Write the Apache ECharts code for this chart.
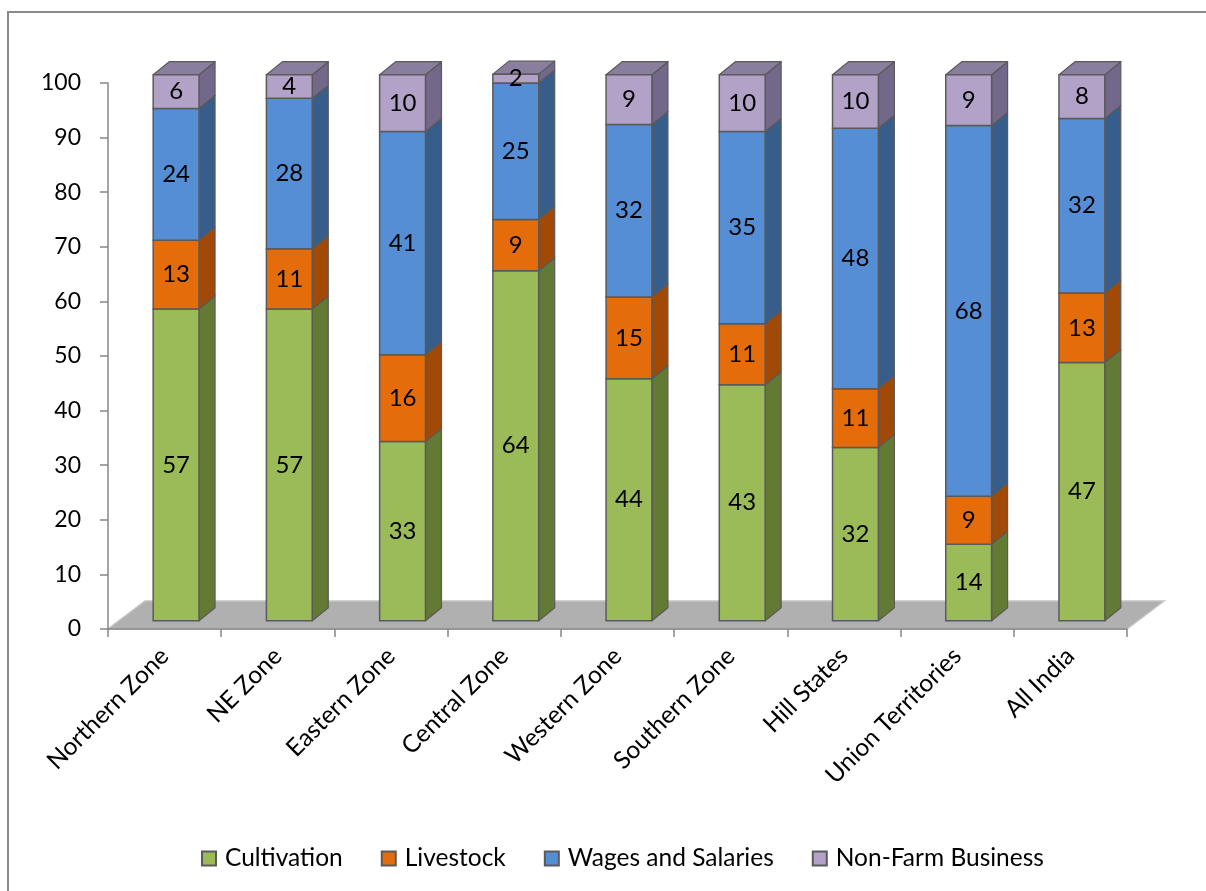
<!DOCTYPE html>
<html>
<head>
<meta charset="utf-8">
<script src="https://cdn.jsdelivr.net/npm/echarts@6/dist/echarts.min.js"></script>
<style>html,body{margin:0;padding:0;background:#fff;}#main{width:1206px;height:891px;}</style>
</head>
<body>
<div id="main"></div>
<script>
var categories = ['Northern Zone','NE Zone','Eastern Zone','Central Zone','Western Zone','Southern Zone','Hill States','Union Territories','All India'];
var seriesNames = ['Cultivation','Livestock','Wages and Salaries','Non-Farm Business'];
var cultivation = [57.1, 57.1, 32.8, 64.1, 44.3, 43.2, 31.7, 14.0, 47.3];
var livestock   = [12.6, 11.0, 15.9, 9.4, 15.0, 11.2, 10.8, 8.8, 12.7];
var wages       = [24.1, 27.6, 40.9, 25.0, 31.6, 35.2, 47.7, 67.9, 32.0];
var nonFarm     = [6.2, 4.3, 10.4, 1.6, 9.1, 10.4, 9.8, 9.3, 8.0];
var yTicks = [0,10,20,30,40,50,60,70,80,90,100];

var FONT = 'Lato';
var front = ['#9BBB59','#E46C0A','#558ED5','#B3A2C7'];
var side  = ['#627A34','#A14906','#375D8B','#73678A'];
var topC  = '#8A7E9E';
var edge  = '#5A5A5A';
var FX = 11.5, FY = -8.3, DX = 16, DY = 13;
var FLOOR_DX = 37, FLOOR_DY = 28;

var allSeries = [cultivation, livestock, wages, nonFarm];
var bases = allSeries.map(function(){return [];});
for (var i = 0; i < categories.length; i++) {
  var acc = 0;
  for (var s = 0; s < allSeries.length; s++) { bases[s][i] = acc; acc += allSeries[s][i]; }
}

function makeRender(si) {
  return function(params, api) {
    var cat = api.value(0), base = api.value(1), val = api.value(2);
    var band = api.size([1, 0])[0];
    var W = band * 0.405;
    var c0 = api.coord([cat, base]);
    var c1 = api.coord([cat, base + val]);
    var cx = c0[0] + FX;
    var yb = c0[1] + FY, yt = c1[1] + FY;
    var xl = cx - W / 2, xr = cx + W / 2;
    var children = [];
    children.push({type:'polygon', shape:{points:[[xr,yb],[xr+DX,yb-DY],[xr+DX,yt-DY],[xr,yt]]},
      style:{fill:side[si], stroke:edge, lineWidth:1.2, lineJoin:'round'}});
    if (si === allSeries.length - 1) {
      children.push({type:'polygon', shape:{points:[[xl,yt],[xr,yt],[xr+DX,yt-DY],[xl+DX,yt-DY]]},
        style:{fill:topC, stroke:edge, lineWidth:1.2, lineJoin:'round'}});
    }
    children.push({type:'rect', shape:{x:xl, y:yt, width:W, height:yb-yt},
      style:{fill:front[si], stroke:edge, lineWidth:1.5}});
    children.push({type:'text', x:cx, y:(yt+yb)/2,
      style:{text:String(Math.round(val)), align:'center', verticalAlign:'middle',
        fontSize:24, fontFamily:FONT, fill:'#000'}, z2:10});
    return {type:'group', children:children};
  };
}

var series = [{
  type:'custom', name:'floor', silent:true, z:1,
  data:[[0]],
  renderItem:function(params, api){
    var band = api.size([1,0])[0];
    var a = api.coord([0, 0]);
    var b = api.coord([categories.length - 1, 0]);
    var x0 = a[0] - band/2, x1 = b[0] + band/2, y0 = a[1];
    return {type:'polygon', shape:{points:[[x0,y0],[x1,y0],[x1+FLOOR_DX,y0-FLOOR_DY],[x0+FLOOR_DX,y0-FLOOR_DY]]},
      style:{fill:'#B0B0B0', stroke:'#C4C4C4', lineWidth:1.5}};
  }
}];
allSeries.forEach(function(arr, si){
  series.push({
    type:'custom', name:seriesNames[si], z:2,
    itemStyle:{color:front[si], borderColor:edge, borderWidth:1.2},
    data:arr.map(function(v, i){ return [i, bases[si][i], v]; }),
    encode:{x:0, y:[1,2]},
    renderItem:makeRender(si)
  });
});

var chart = echarts.init(document.getElementById('main'), null, {renderer:'canvas'});
chart.setOption({
  animation:false,
  backgroundColor:'#fff',
  textStyle:{fontFamily:FONT},
  graphic:[{type:'rect', shape:{x:8, y:12, width:1400, height:1000}, style:{fill:'none', stroke:'#8A8A8A', lineWidth:2}, z:-1}],
  grid:{left:108, right:79, top:83, bottom:262, containLabel:false},
  legend:{
    bottom:15, left:196, itemWidth:14, itemHeight:14, itemGap:38,
    icon:'rect',
    data:seriesNames,
    textStyle:{fontSize:24.5, fontFamily:FONT, color:'#000', padding:[0,0,0,4]}
  },
  xAxis:{
    type:'category', data:categories, boundaryGap:true, z:5,
    axisLine:{show:true, lineStyle:{color:'#878787', width:1.5}},
    axisTick:{show:true, length:8, alignWithLabel:false, lineStyle:{color:'#878787', width:1.5}},
    axisLabel:{rotate:45, margin:23, fontSize:24.5, fontFamily:FONT, color:'#000', interval:0}
  },
  yAxis:{
    type:'value', min:0, max:100, interval:10, z:5,
    axisLine:{show:true, lineStyle:{color:'#878787', width:1.5}},
    axisTick:{show:true, length:8, inside:false, lineStyle:{color:'#878787', width:1.5}},
    splitLine:{show:false},
    axisLabel:{margin:27, fontSize:23, fontFamily:FONT, color:'#000',
      formatter:function(v){ return yTicks.indexOf(v) >= 0 ? String(v) : ''; }}
  },
  series:series
});
</script>
</body>
</html>
